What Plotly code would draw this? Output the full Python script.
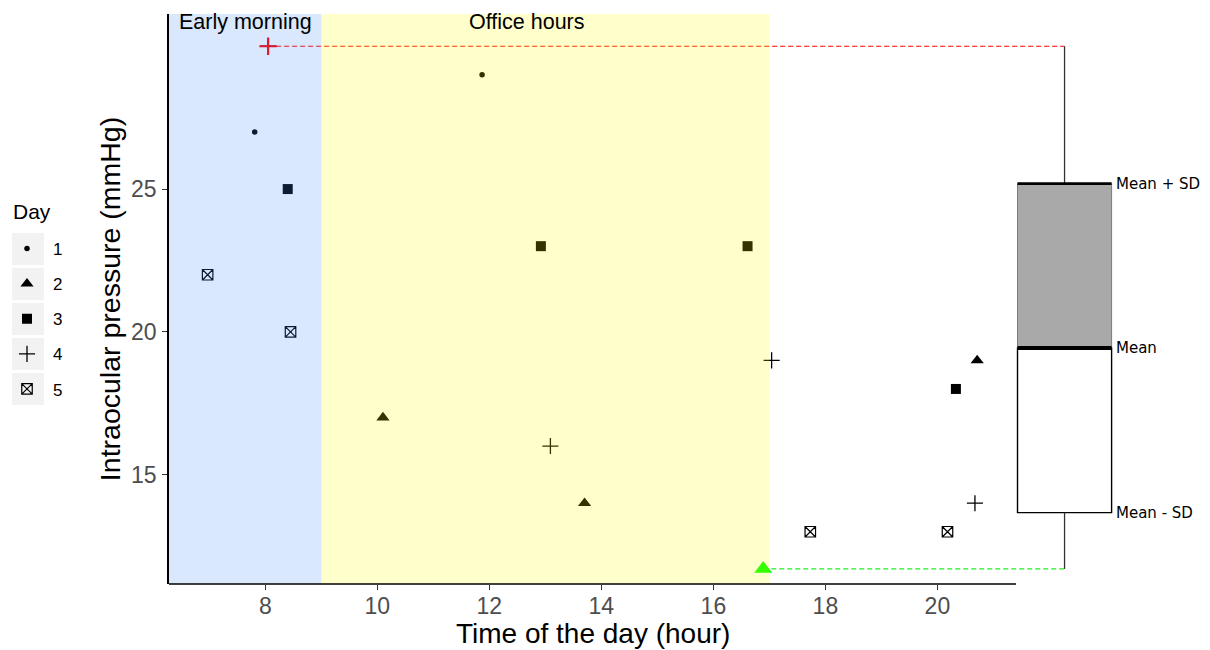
import plotly.graph_objects as go

# ---------------- data ----------------
day_labels = ["1", "2", "3", "4", "5"]
day1_time = [7.81, 11.87]
day1_iop = [27, 29]
day2_time = [10.10, 13.70, 16.89, 20.71]
day2_iop = [17, 14, 11.7, 19]
day3_time = [8.40, 12.92, 16.61, 20.33]
day3_iop = [25, 23, 23, 18]
day4_time = [8.05, 13.09, 17.04, 20.67]
day4_iop = [30, 16, 19, 14]
day5_time = [6.97, 8.45, 17.73, 20.18]
day5_iop = [22, 20, 13, 13]

period_names = ["Early morning", "Office hours"]
period_start = [6.28, 9]
period_end = [9, 17]
period_label_x = [7.64, 12.68]

x_ticks = [8, 10, 12, 14, 16, 18, 20]
y_ticks = [15, 20, 25]

box_labels = ["Mean + SD", "Mean", "Mean - SD"]
box_mean = 19.43
box_sd = 5.76

# ---------------- layout constants ----------------
OFF = 8                      # page body margin
W, H = 1202, 642
ML, MR, MT, MB = 161, 76, 6, 66
PW = W - ML - MR
PH = H - MT - MB
XR = [6.28, 23.51]
YR = [11.17, 31.13]
BOX_X = 22.27
BOX_W = 1.68
FONT = "Liberation Sans, Arial, sans-serif"


def pxx(p):
    """page pixel x -> paper x"""
    return (p - OFF - ML) / PW


def pxy(p):
    """page pixel y -> paper y"""
    return (H - MB - (p - OFF)) / PH


times = [day1_time, day2_time, day3_time, day4_time, day5_time]
iops = [day1_iop, day2_iop, day3_iop, day4_iop, day5_iop]
symbols = ["circle", "triangle-up", "square", "cross-thin-open", "square-x-open"]
sizes = [5.5, 11.5, 10, 11.5, 10.5]
linew = [0, 0, 0, 1.3, 1.2]

all_t = [t for ts in times for t in ts]
all_v = [v for vs in iops for v in vs]
imax = max(range(len(all_v)), key=lambda k: all_v[k])
imin = min(range(len(all_v)), key=lambda k: all_v[k])
vmax, vmin = all_v[imax], all_v[imin]

fig = go.Figure()

# dashed connectors to the box
fig.add_trace(go.Scatter(x=[all_t[imax], BOX_X], y=[vmax, vmax], mode="lines",
                         line=dict(color="red", width=1.2, dash="5px,3px"),
                         showlegend=False, hoverinfo="skip"))
fig.add_trace(go.Scatter(x=[all_t[imin], BOX_X], y=[vmin, vmin], mode="lines",
                         line=dict(color="#22ee22", width=1.2, dash="5px,3px"),
                         showlegend=False, hoverinfo="skip"))

# points by day
for i in range(5):
    fig.add_trace(go.Scatter(
        x=times[i], y=iops[i], mode="markers", name=day_labels[i],
        legendgroup=day_labels[i],
        marker=dict(symbol=symbols[i], size=sizes[i], color="black",
                    line=dict(color="black", width=linew[i]))))

# highlighted max / min
fig.add_trace(go.Scatter(x=[all_t[imax]], y=[vmax], mode="markers", showlegend=False,
                         marker=dict(symbol="cross-thin-open", size=12.5,
                                     line=dict(color="red", width=2.2), color="red")))
fig.add_trace(go.Scatter(x=[all_t[imin]], y=[vmin], mode="markers", showlegend=False,
                         marker=dict(symbol="triangle-up", size=15.5, color="#00ff00",
                                     line=dict(width=0))))

# box: mean +/- SD
upper = box_mean + box_sd
lower = box_mean - box_sd
fig.add_trace(go.Scatter(x=[BOX_X, BOX_X], y=[vmax, upper], mode="lines",
                         line=dict(color="#333333", width=1.3), showlegend=False))
fig.add_trace(go.Scatter(x=[BOX_X, BOX_X], y=[lower, vmin], mode="lines",
                         line=dict(color="#333333", width=1.3), showlegend=False))
fig.add_trace(go.Bar(x=[BOX_X], y=[box_sd], base=[box_mean], width=[BOX_W],
                     marker=dict(color="#a9a9a9", line=dict(color="#666666", width=0.8)),
                     showlegend=False))
fig.add_trace(go.Bar(x=[BOX_X], y=[box_sd], base=[lower], width=[BOX_W],
                     marker=dict(color="white", line=dict(color="black", width=1.4)),
                     showlegend=False))
xl, xr = BOX_X - BOX_W / 2, BOX_X + BOX_W / 2
fig.add_trace(go.Scatter(x=[xl, xr], y=[upper, upper], mode="lines",
                         line=dict(color="black", width=2.6), showlegend=False))
fig.add_trace(go.Scatter(x=[xl, xr], y=[box_mean, box_mean], mode="lines",
                         line=dict(color="black", width=4), showlegend=False))

shapes = []
band_colors = ["rgba(65,140,240,0.2)", "rgba(255,255,0,0.2)"]
for s, e, c in zip(period_start, period_end, band_colors):
    shapes.append(dict(type="rect", xref="x", yref="paper", x0=s, x1=e, y0=0, y1=1,
                       fillcolor=c, line=dict(width=0), layer="above"))
# x axis line (only under the scatter part)
shapes.append(dict(type="line", xref="paper", yref="paper", x0=0, x1=pxx(1016), y0=0, y1=0,
                   line=dict(color="black", width=1.5), layer="above"))
# legend key backgrounds
key_centers = [249, 284, 319, 354, 389]
for c in key_centers:
    shapes.append(dict(type="rect", xref="paper", yref="paper", x0=pxx(12), x1=pxx(44),
                       y0=pxy(c + 16), y1=pxy(c - 16), fillcolor="#f2f2f2",
                       line=dict(width=0), layer="below"))

annotations = []
for name, xv in zip(period_names, period_label_x):
    annotations.append(dict(x=xv, y=pxy(22), xref="x", yref="paper", text=name,
                            showarrow=False, font=dict(family=FONT, size=21.5, color="black"),
                            xanchor="center", yanchor="middle"))
for lab, yv in zip(box_labels, [upper, box_mean, lower]):
    annotations.append(dict(x=xr, y=yv, xref="x", yref="y", text=lab, showarrow=False,
                            xanchor="left", yanchor="middle", xshift=2,
                            font=dict(family="DejaVu Sans, Verdana, sans-serif", size=15, color="black")))
annotations.append(dict(x=pxx(593), y=pxy(633), xref="paper", yref="paper",
                        text="Time of the day (hour)", showarrow=False,
                        font=dict(family=FONT, size=28, color="black"),
                        xanchor="center", yanchor="middle"))
# legend title
annotations.append(dict(x=pxx(11), y=pxy(212), xref="paper", yref="paper",
                        text="Day", showarrow=False,
                        font=dict(family=FONT, size=21, color="black"),
                        xanchor="left", yanchor="middle"))

fig.update_layout(
    width=W, height=H,
    margin=dict(l=ML, r=MR, t=MT, b=MB, autoexpand=False),
    paper_bgcolor="white", plot_bgcolor="white",
    barmode="overlay",
    font=dict(family=FONT),
    shapes=shapes, annotations=annotations,
    showlegend=True,
    legend=dict(xref="container", x=0, xanchor="left", y=pxy(319), yanchor="middle",
                bgcolor="rgba(0,0,0,0)", tracegroupgap=10, itemwidth=42, indentation=-7,
                font=dict(family=FONT, size=17, color="black")),
    xaxis=dict(range=XR, tickvals=x_ticks, showgrid=False, zeroline=False, showline=False,
               automargin=False,
               ticks="outside", ticklen=5, tickcolor="#333333", tickwidth=1.2,
               ticklabelposition="outside", ticklabelstandoff=-4,
               tickfont=dict(family=FONT, size=23, color="#4d4d4d")),
    yaxis=dict(range=YR, tickvals=y_ticks, showgrid=False, zeroline=False, showline=True,
               automargin=False,
               linecolor="black", linewidth=1.5,
               ticks="outside", ticklen=5, tickcolor="#333333", tickwidth=1.2,
               ticklabelstandoff=1,
               tickfont=dict(family=FONT, size=23, color="#4d4d4d"),
               title=dict(text="Intraocular pressure (mmHg)", standoff=2,
                          font=dict(family=FONT, size=28.5, color="black"))),
)

fig.write_html("out.html")
